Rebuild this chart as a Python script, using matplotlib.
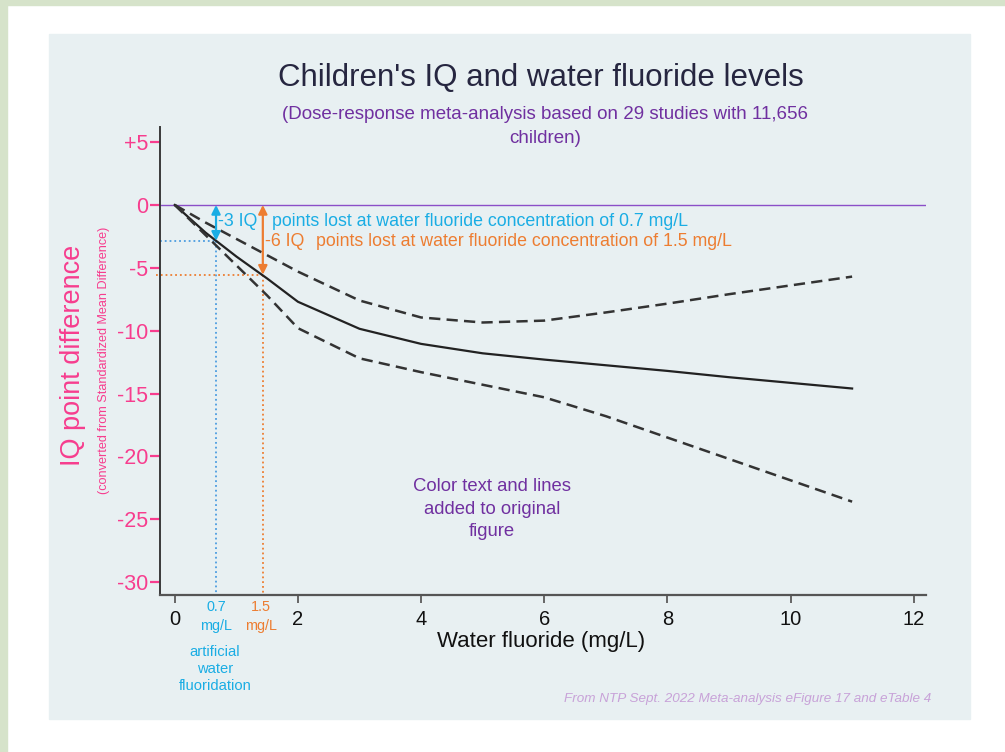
import matplotlib
matplotlib.use("Agg")
import matplotlib.pyplot as plt
from matplotlib.patches import Rectangle

plt.rcParams['font.family'] = ['Liberation Sans', 'DejaVu Sans']

# dose-response curve
fluoride = [0, 0.5, 1, 1.5, 2, 3, 4, 5, 6, 7, 8, 9, 10, 11]
iq_mean = [0, -2.2, -4.1, -5.85, -7.7, -9.85, -11.05, -11.8, -12.3, -12.75, -13.2, -13.7, -14.15, -14.6]
iq_upper = [0, -1.4, -2.7, -4.0, -5.3, -7.6, -8.95, -9.35, -9.2, -8.55, -7.85, -7.1, -6.4, -5.7]
iq_lower = [0, -2.4, -4.8, -7.2, -9.8, -12.2, -13.3, -14.3, -15.3, -16.8, -18.5, -20.2, -21.9, -23.6]

x_ticks = [0, 2, 4, 6, 8, 10, 12]
y_ticks = [5, 0, -5, -10, -15, -20, -25, -30]
y_tick_labels = ['+5', '0', '-5', '-10', '-15', '-20', '-25', '-30']

# marked concentrations and IQ loss (as drawn)
conc_07 = 0.67
loss_07 = -2.85
conc_15 = 1.43
loss_15 = -5.55

PINK = '#F73D8E'
BLUE = '#1AADE4'
BLUE_DOT = '#4B9CE0'
ORANGE = '#ED7D31'
PURPLE = '#7030A0'

W, H = 1005, 752
fig = plt.figure(figsize=(W / 100, H / 100), dpi=100)
fig.patch.set_facecolor('white')

# frame / panel
fig.add_artist(Rectangle((0, 0), 7 / W, 1, transform=fig.transFigure, color='#D6E3CA', zorder=-5))
fig.add_artist(Rectangle((0, 1 - 5 / H), 1, 5 / H, transform=fig.transFigure, color='#D6E3CA', zorder=-5))
fig.add_artist(Rectangle((49 / W, 1 - 719 / H), (970 - 49) / W, (719 - 34) / H,
                         transform=fig.transFigure, color='#E8F0F2', zorder=-4))

ax = fig.add_axes([160 / W, 1 - 594.7 / H, (926 - 160) / W, (594.7 - 127) / H])
ax.set_facecolor('none')
ax.set_xlim(-0.24, 12.2)
ax.set_ylim(-31.0, 6.2)

ax.axhline(0, color='#8B4FC8', lw=1.0, zorder=1)

ax.plot(fluoride, iq_mean, color='#222222', lw=1.6, zorder=3)
ax.plot(fluoride, iq_upper, color='#333333', lw=1.8, dashes=(4.5, 2.5), zorder=3)
ax.plot(fluoride, iq_lower, color='#333333', lw=1.8, dashes=(4.5, 2.5), zorder=3)

# dotted guide lines
ax.plot([-0.24, conc_07], [loss_07, loss_07], color=BLUE_DOT, lw=1.3, ls=':', zorder=2)
ax.plot([conc_07, conc_07], [loss_07, -31], color=BLUE_DOT, lw=1.3, ls=':', zorder=2)
ax.plot([-0.3, conc_15], [loss_15, loss_15], color=ORANGE, lw=1.3, ls=':', zorder=2, clip_on=False)
ax.plot([conc_15, conc_15], [loss_15, -31], color=ORANGE, lw=1.3, ls=':', zorder=2)

# double arrows
ax.annotate('', xy=(conc_07, loss_07), xytext=(conc_07, 0),
            arrowprops=dict(arrowstyle='<|-|>', color=BLUE, lw=1.6, mutation_scale=13,
                            shrinkA=0, shrinkB=0), zorder=4)
ax.annotate('', xy=(conc_15, loss_15), xytext=(conc_15, 0),
            arrowprops=dict(arrowstyle='<|-|>', color=ORANGE, lw=1.6, mutation_scale=13,
                            shrinkA=0, shrinkB=0), zorder=4)

ax.text(0.71, -1.35, '-3 IQ', color=BLUE, fontsize=12.8, ha='left', va='center')
ax.text(1.585, -1.35, 'points lost at water fluoride concentration of 0.7 mg/L',
        color=BLUE, fontsize=12.8, ha='left', va='center')
ax.text(1.47, -2.94, '-6 IQ', color=ORANGE, fontsize=12.8, ha='left', va='center')
ax.text(2.30, -2.94, 'points lost at water fluoride concentration of 1.5 mg/L',
        color=ORANGE, fontsize=12.8, ha='left', va='center')

# axes styling
for s in ['top', 'right']:
    ax.spines[s].set_visible(False)
ax.spines['left'].set_color('#3a3a3a')
ax.spines['left'].set_linewidth(1.4)
ax.spines['bottom'].set_color('#555555')
ax.spines['bottom'].set_linewidth(1.6)

ax.set_xticks(x_ticks)
ax.set_xticklabels([str(v) for v in x_ticks])
ax.tick_params(axis='x', direction='out', length=6, width=1.4, color='#666666',
               labelsize=14.5, labelcolor='#111111', pad=5)
ax.set_yticks(y_ticks)
ax.set_yticklabels(y_tick_labels)
ax.tick_params(axis='y', direction='out', length=7, width=1.6, color=PINK,
               labelsize=15.5, labelcolor=PINK, pad=1.5)

# extra x labels under the axis
for xv, txt, col in [(conc_07, '0.7', BLUE), (conc_15 - 0.03, '1.5', ORANGE)]:
    ax.text(xv, -32.0, txt, color=col, fontsize=10.4, ha='center', va='center', clip_on=False)
    ax.text(xv, -33.5, 'mg/L', color=col, fontsize=10.4, ha='center', va='center', clip_on=False)
ax.text(conc_07 - 0.02, -36.9, 'artificial\nwater\nfluoridation', color=BLUE, fontsize=10.6,
        ha='center', va='center', linespacing=1.3, clip_on=False)

fig.text(541 / W, 1 - 642 / H, 'Water fluoride (mg/L)', fontsize=16, color='#111111',
         ha='center', va='center')

# titles
fig.text(541 / W, 1 - 78 / H, "Children's IQ and water fluoride levels", fontsize=22.5,
         color='#262640', ha='center', va='center')
fig.text(545 / W, 1 - 126.5 / H,
         '(Dose-response meta-analysis based on 29 studies with 11,656\nchildren)',
         fontsize=13.5, color=PURPLE, ha='center', va='center', linespacing=1.5)

# y labels
fig.text(73 / W, 1 - 355 / H, 'IQ point difference', fontsize=19.5, color=PINK,
         rotation=90, ha='center', va='center')
fig.text(104 / W, 1 - 360 / H, '(converted from Standardized Mean Difference)', fontsize=9.1,
         color=PINK, rotation=90, ha='center', va='center')

# notes
fig.text(492 / W, 1 - 509 / H, 'Color text and lines\nadded to original\nfigure', fontsize=13.3,
         color=PURPLE, ha='center', va='center', linespacing=1.4)
fig.text(564 / W, 1 - 699 / H, 'From NTP Sept. 2022 Meta-analysis eFigure 17 and eTable 4',
         fontsize=9.7, color='#C8A2D8', style='italic', ha='left', va='center')

fig.savefig('out.png', dpi=100)
